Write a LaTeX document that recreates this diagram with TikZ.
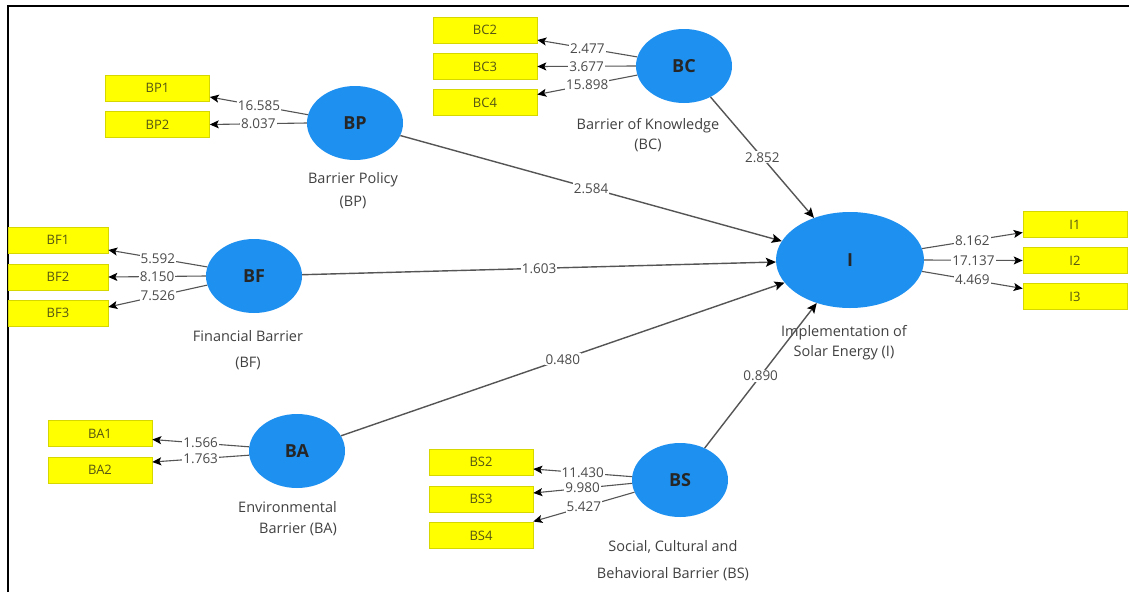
\documentclass[tikz,border=0pt]{standalone}
\usepackage{fontspec}
\setmainfont{Open Sans}
\usetikzlibrary{shapes.geometric,arrows.meta}
\definecolor{lvblue}{RGB}{30,144,240}
\definecolor{indyel}{RGB}{255,255,0}
\definecolor{indedge}{RGB}{215,215,0}
\definecolor{indtxt}{RGB}{85,85,20}
\definecolor{linegray}{RGB}{85,85,85}
\definecolor{lbltxt}{RGB}{75,75,75}
\definecolor{captxt}{RGB}{65,65,65}
\begin{document}
\begin{tikzpicture}[x=1pt,y=-1pt,
 latent/.style={ellipse,fill=lvblue,draw=none,inner sep=0pt,minimum width=96pt,minimum height=74pt,font=\bfseries\fontsize{18}{18}\selectfont,text=black!85},
 indbox/.style={rectangle,fill=indyel,draw=indedge,line width=0.6pt,minimum width=104pt,minimum height=26pt,inner sep=0pt,font=\fontsize{13}{13}\selectfont,text=indtxt},
 coef/.style={fill=white,inner sep=1pt,font=\fontsize{13.5}{13.5}\selectfont,text=lbltxt},
 structarrow/.style={draw=linegray,line width=1.4pt,-{Stealth[length=10pt,width=9pt,inset=2pt,black]}},
 loadarrow/.style={draw=linegray,line width=1.1pt,-{Stealth[length=9pt,width=8pt,inset=2pt,black]}},
 lvcap/.style={align=center,text=captxt,inner sep=0pt}
]
\useasboundingbox (0,0) rectangle (1129,592);
\fill[white] (0,0) rectangle (1129,592);
\draw[line width=2.2pt] (8,592) -- (8,6) -- (1129,6);

% latent variables
\node[latent] (BP) at (355,123) {BP};
\node[latent] (BC) at (684,66) {BC};
\node[latent] (BF) at (254,276) {BF};
\node[latent] (BA) at (297,451) {BA};
\node[latent] (BS) at (680,480) {BS};
\node[latent,minimum width=148pt,minimum height=96pt] (I) at (850,260) {I};

% captions
\node[lvcap,font=\fontsize{14.5}{23}\selectfont] (BPl) at (353,191) {Barrier Policy\\(BP)};
\node[lvcap,font=\fontsize{14.5}{20}\selectfont] (BCl) at (648,135) {Barrier of Knowledge\\(BC)};
\node[lvcap,font=\fontsize{14.5}{26}\selectfont] (BFl) at (248,350) {Financial Barrier\\(BF)};
\node[lvcap,align=right,anchor=east,font=\fontsize{14.5}{21}\selectfont] (BAl) at (337,519) {Environmental\\Barrier (BA)};
\node[lvcap,font=\fontsize{14.5}{20}\selectfont] (Il) at (844,343) {Implementation of\\Solar Energy (I)};
\node[lvcap,font=\fontsize{14.5}{27}\selectfont] (BSl) at (673,561) {Social, Cultural and\\Behavioral Barrier (BS)};

% indicators
\node[indbox] (BP1) at (157.5,88) {BP1};
\node[indbox] (BP2) at (157.5,124.5) {BP2};
\node[indbox] (BC2) at (485,30) {BC2};
\node[indbox] (BC3) at (485,66.5) {BC3};
\node[indbox] (BC4) at (485,102.5) {BC4};
\node[indbox,minimum width=100pt] (BF1) at (58,240) {BF1};
\node[indbox,minimum width=100pt] (BF2) at (58,277) {BF2};
\node[indbox,minimum width=100pt] (BF3) at (58,313) {BF3};
\node[indbox] (BA1) at (100,433.5) {BA1};
\node[indbox] (BA2) at (100,470) {BA2};
\node[indbox] (BS2) at (481,462) {BS2};
\node[indbox] (BS3) at (481,499) {BS3};
\node[indbox] (BS4) at (481,535.5) {BS4};
\node[indbox] (I1) at (1075,224.5) {I1};
\node[indbox] (I2) at (1075,260.5) {I2};
\node[indbox] (I3) at (1075,296.5) {I3};

% structural paths
\draw[structarrow] (BP) -- node[coef] {2.584} (I);
\draw[structarrow] (BF) -- node[coef] {1.603} (I);
\draw[structarrow] (BA) -- node[coef] {0.480} (I);
\draw[structarrow] (BC) -- node[coef] {2.852} (I);
\draw[structarrow] (BS) -- node[coef] {0.890} (I);

% loadings
\draw[loadarrow] (BP.170) -- node[coef] {16.585} ([yshift=-9pt]BP1.east);
\draw[loadarrow] (BP.180) -- node[coef] {8.037} (BP2.east);

\draw[loadarrow] (BC.169) -- node[coef] {2.477} ([yshift=-10pt]BC2.east);
\draw[loadarrow] (BC.180) -- node[coef] {3.677} (BC3.east);
\draw[loadarrow] (BC.191) -- node[coef] {15.898} ([yshift=8pt]BC4.east);

\draw[loadarrow] (BF.169) -- node[coef] {5.592} ([yshift=-10pt]BF1.east);
\draw[loadarrow] (BF.180) -- node[coef] {8.150} (BF2.east);
\draw[loadarrow] (BF.191) -- node[coef] {7.526} ([yshift=6pt]BF3.east);

\draw[loadarrow] (BA.175) -- node[coef] {1.566} ([yshift=-6pt]BA1.east);
\draw[loadarrow] (BA.185) -- node[coef] {1.763} ([yshift=8pt]BA2.east);

\draw[loadarrow] (BS.176) -- node[coef] {11.430} ([yshift=-7pt]BS2.east);
\draw[loadarrow] (BS.184) -- node[coef] {9.980} ([yshift=6pt]BS3.east);
\draw[loadarrow] (BS.195) -- node[coef] {5.427} ([yshift=14pt]BS4.east);

\draw[loadarrow] (I.9) -- node[coef] {8.162} ([yshift=-8pt]I1.west);
\draw[loadarrow] (I.0) -- node[coef] {17.137} (I2.west);
\draw[loadarrow] (I.351) -- node[coef] {4.469} ([yshift=8pt]I3.west);
\end{tikzpicture}
\end{document}
